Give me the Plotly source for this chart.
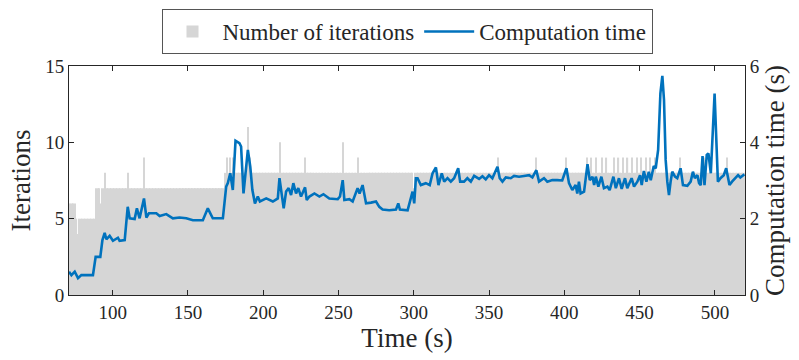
import plotly.graph_objects as go

# iteration count: run-length levels (start second -> level) plus single-second spikes
iter_seg_start = [71, 72, 76, 77, 78, 89, 92, 93, 175, 300, 301]
iter_seg_level = [5, 6, 5, 4, 5, 7, 6, 7, 8, 7, 8]
iter_end = 520
spike_t = [95, 110, 121, 176, 178, 180, 190, 191, 211, 228, 253, 263, 356, 381, 401,
           415, 418, 421, 425, 428, 433, 436, 439, 442, 445, 448, 451, 454, 457, 460,
           477, 493, 508]
spike_val = [8, 8, 9, 9, 9, 9, 11, 9, 10, 9, 10, 9, 9, 9, 9,
             9, 9, 9, 9, 9, 9, 9, 9, 9, 9, 9, 9, 9, 9, 9,
             9, 9, 9]

# computation time (s)
ct_t = [71, 72.6, 74.8, 77, 79.2, 86.9, 88.7, 91.8, 93.2, 94.7, 95.8, 98, 100.2, 103.5, 104.6,
        108, 110, 111.3, 114.6, 116.1, 117.9, 120.8, 122.4, 124.1, 129, 131.2, 135.6, 140,
        144.4, 148.9, 153.3, 159.9, 163.2, 166.5, 173.2, 175.4, 176.5, 178.1, 179.8, 181.6,
        184.2, 185.3, 186.9, 188.7, 189.8, 191.4, 192.8, 194.5, 196.4, 197.8, 202, 206.4,
        209.7, 210.8, 212.4, 213.6, 215.2, 216.9, 218.5, 220, 221.8, 223.3, 225.1, 227.8,
        228.9, 230.7, 234, 237.3, 240, 243.9, 249.5, 251, 252.8, 253.9, 257.2, 259.4, 262.7,
        264, 266, 268.3, 271.6, 274.9, 277.1, 279.3, 283.7, 288.2, 289.7, 290.8, 295.9,
        297.5, 299.2, 300.3, 301.4, 302.5, 304.7, 308, 310.6, 312.5, 314.7, 316.4, 318.6,
        320.2, 322.4, 324.6, 326.8, 329.5, 330.8, 333.4, 335.6, 337.9, 340.1, 343.4, 345.6,
        347.8, 350, 352.2, 355.6, 357.1, 358.9, 361.1, 364.4, 366.6, 369.9, 373.2, 376.6,
        378.8, 381.4, 383.2, 386.5, 388.7, 392, 395.3, 398.6, 401.4, 403.1, 405.3, 407.5,
        408.6, 409.7, 410.8, 413.1, 415.4, 416.9, 418.7, 419.8, 420.9, 422.6, 424.6, 426.3,
        428.6, 430.1, 432.6, 434.2, 436.3, 438.1, 440.3, 441.8, 444.7, 446.3, 448.5, 450.3,
        451.4, 452.8, 454.5, 456.1, 457.4, 459.4, 460.7, 462.3, 463.8, 465.1, 466.2, 467.3,
        468.4, 469.5, 470.6, 471.7, 473.5, 475, 477.2, 478.8, 481.7, 483.9, 485.4, 486.7,
        488.4, 489.5, 490.6, 491.8, 493.1, 494.6, 495.7, 497.3, 499.8, 500.8, 502, 503.7,
        505.9, 507.5, 509.7, 511.4, 513.6, 515.4, 516.9, 519.6]
ct_val = [0.61, 0.52, 0.61, 0.44, 0.52, 0.52, 1.00, 1.00, 1.44, 1.63, 1.46, 1.55, 1.42, 1.50, 1.42,
          1.44, 2.31, 2.01, 1.99, 2.27, 2.01, 2.53, 2.03, 2.14, 2.14, 2.07, 2.12, 2.01,
          2.03, 2.01, 1.96, 1.96, 2.27, 2.01, 2.01, 2.84, 2.93, 3.19, 2.75, 4.04,
          3.98, 3.89, 2.66, 3.27, 3.80, 3.36, 2.75, 2.40, 2.58, 2.45, 2.53, 2.45,
          2.53, 3.06, 2.66, 2.27, 2.71, 2.80, 2.62, 2.93, 2.66, 2.80, 2.58, 2.82,
          2.49, 2.58, 2.66, 2.58, 2.64, 2.53, 2.51, 2.58, 3.01, 2.49, 2.51, 2.45, 2.80,
          2.66, 2.88, 2.40, 2.42, 2.45, 2.31, 2.24, 2.22, 2.24, 2.40, 2.24, 2.22,
          2.49, 2.71, 2.40, 3.06, 3.06, 2.88, 2.93, 2.88, 3.19, 3.34, 2.88, 3.19,
          2.97, 3.06, 2.97, 3.06, 3.32, 2.97, 2.97, 3.06, 2.97, 3.12, 3.04, 3.11,
          3.03, 3.14, 3.06, 3.36, 3.06, 2.97, 3.08, 3.06, 3.12, 3.10, 3.12, 3.14,
          3.08, 3.27, 2.97, 3.06, 2.97, 3.01, 3.01, 3.00, 3.32, 2.93, 2.75, 2.88,
          2.66, 2.97, 2.66, 2.71, 3.43, 3.01, 3.10, 2.88, 3.10, 2.84, 3.10, 2.80,
          2.84, 2.75, 3.10, 2.80, 3.06, 2.78, 3.06, 2.80, 3.06, 2.84, 2.97, 3.14,
          2.88, 3.25, 2.97, 3.23, 3.01, 3.38, 3.32, 3.80, 5.28, 5.74, 5.11, 3.54,
          2.97, 2.62, 2.97, 3.23, 3.10, 3.06, 3.32, 2.88, 2.86, 2.97, 3.23, 3.06,
          3.14, 2.93, 2.88, 3.64, 2.88, 3.67, 3.71, 3.19, 5.28, 4.32, 2.97, 3.06,
          3.14, 3.32, 2.88, 2.97, 3.06, 3.14, 3.08, 3.16]

# expand the run-length iteration data to one bar per second
bar_t, bar_n = [], []
for i, start in enumerate(iter_seg_start):
    stop = iter_seg_start[i + 1] if i + 1 < len(iter_seg_start) else iter_end + 1
    for t in range(start, stop):
        bar_t.append(t)
        bar_n.append(iter_seg_level[i])
for t, v in zip(spike_t, spike_val):
    bar_n[bar_t.index(t)] = v

axis_col = '#262626'
fnt = 'Liberation Serif'

fig = go.Figure()
fig.add_trace(go.Bar(x=bar_t, y=bar_n, name='Number of iterations',
                     marker=dict(color='#d6d6d6', line=dict(width=0))))
fig.add_trace(go.Scatter(x=ct_t, y=ct_val, name='Computation time', yaxis='y2',
                         mode='lines', line=dict(color='#0072BD', width=2.6)))

fig.update_layout(
    width=799, height=360,
    margin=dict(l=69, r=54, t=66, b=65, autoexpand=False),
    paper_bgcolor='white', plot_bgcolor='white',
    font=dict(family=fnt, size=19, color=axis_col),
    bargap=0.2,
    showlegend=True,
    legend=dict(orientation='h', x=0.5, xanchor='center', xref='paper',
                y=1 - 9 / 360, yanchor='top', yref='container',
                bordercolor='#555555', borderwidth=1, font=dict(size=23),
                itemwidth=50, traceorder='normal'),
    xaxis=dict(range=[71, 520], tickvals=[100, 150, 200, 250, 300, 350, 400, 450, 500],
               ticks='inside', ticklen=5, tickcolor=axis_col, showline=True, linecolor=axis_col,
               mirror='ticks', showgrid=False, zeroline=False, automargin=False,
               title=dict(text='Time (s)', font=dict(size=27), standoff=6)),
    yaxis=dict(range=[0, 15], tickvals=[0, 5, 10, 15], ticks='inside', ticklen=5,
               tickcolor=axis_col, showline=True, linecolor=axis_col, showgrid=False,
               zeroline=False, automargin=False,
               title=dict(text='Iterations', font=dict(size=27), standoff=6)),
    yaxis2=dict(range=[0, 6], tickvals=[0, 2, 4, 6], overlaying='y', side='right',
                ticks='inside', ticklen=5, tickcolor=axis_col, showline=True, linecolor=axis_col,
                showgrid=False, zeroline=False, automargin=False,
                title=dict(text='Computation time (s)', font=dict(size=27), standoff=4)),
)

# drop the default page margin so the figure sits at the window's top-left corner
fig.write_html("out.html", config={'displayModeBar': False},
               post_script="document.body.style.margin='0';")
